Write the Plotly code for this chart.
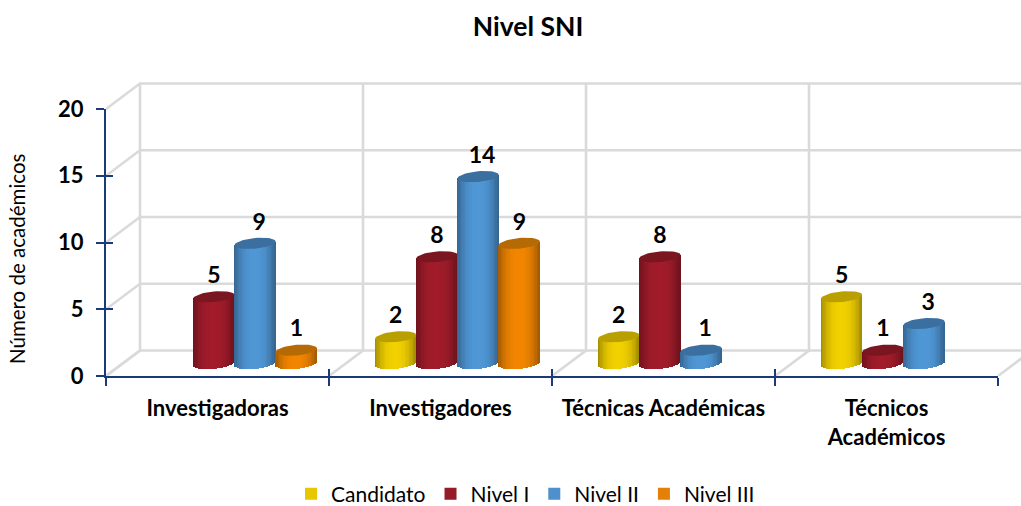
import math
import plotly.graph_objects as go

categories = ["Investigadoras", "Investigadores", "Técnicas Académicas", "Técnicos<br>Académicos"]
series_names = ["Candidato", "Nivel I", "Nivel II", "Nivel III"]
candidato = [None, 2, 2, 5]
nivel_1 = [5, 8, 8, 1]
nivel_2 = [9, 14, 1, 3]
nivel_3 = [1, 9, None, None]
y_ticks = [0, 5, 10, 15, 20]

all_series = [candidato, nivel_1, nivel_2, nivel_3]
body_colors = ["#F2D100", "#A21C2B", "#5097D6", "#F28600"]
top_colors = ["#B9A000", "#7A1620", "#3A6F9F", "#B56A05"]
legend_colors = ["#E6C700", "#951B26", "#4E8FCC", "#E47F08"]
label_shift_px = [0, 0, 4, 0]

FONT = "Lato"
NAVY = "#1B3A7A"
GRID = "#DADADA"

# pixel scale of the axes
W, H = 1021, 506
LEFT, BOTTOM_Y, TOP_Y = 106, 376, 80
PX_X = 223.0      # px per category
PX_Y = 13.35      # px per value unit
FRONT_W = 892.0
FRONT_H = 267.0
FULL_W = W - LEFT
FULL_H = BOTTOM_Y - TOP_Y
WALL_DX = 34 / PX_X
WALL_DY = 25.5 / PX_Y
CYL_W = 41.2 / PX_X
GROUP_SHIFT = 17 / PX_X
BASE = 12.5 / PX_Y
ELL_B = 5.3 / PX_Y
ELL_C = 1.8 / PX_Y
N_STRIPS = 31


def shade(hex_color, factor):
    r, g, b = [int(hex_color[i:i + 2], 16) for i in (1, 3, 5)]
    return "rgb(%d,%d,%d)" % (r * factor, g * factor, b * factor)


fig = go.Figure()

# wall and floor grid, on a full-size backdrop subplot
gx, gy = [], []
for v in y_ticks:
    gx += [0, WALL_DX, 4 + WALL_DX, None]
    gy += [v, v + WALL_DY, v + WALL_DY, None]
for i in range(len(categories) + 1):
    gx += [i, i + WALL_DX, i + WALL_DX, None]
    gy += [0, WALL_DY, y_ticks[-1] + WALL_DY, None]
fig.add_trace(go.Scatter(x=gx, y=gy, mode="lines", line=dict(color=GRID, width=2.6),
                         showlegend=False, hoverinfo="skip", xaxis="x", yaxis="y"))

# legend swatches
for name, col in zip(series_names, legend_colors):
    fig.add_trace(go.Bar(x=[None], y=[None], name=name, marker=dict(color=col, line_width=0),
                         xaxis="x2", yaxis="y2"))

# cylinders
for s, (name, vals) in enumerate(zip(series_names, all_series)):
    xs, hs, bs, cs = [], [], [], []
    ex, ey, lx, ly, lt = [], [], [], [], []
    for c, v in enumerate(vals):
        if v is None:
            continue
        cx = c + 0.5 + GROUP_SHIFT + (s - 1.5) * CYL_W
        for k in range(N_STRIPS):
            u = -1 + 2 * (k + 0.5) / N_STRIPS
            low = BASE - ELL_B * math.sqrt(max(0, 1 - u * u)) + ELL_C * u
            top = BASE + v + ELL_C * u
            xs.append(cx + u * CYL_W / 2)
            bs.append(low)
            hs.append(top - low)
            cs.append(shade(body_colors[s], 0.66 + 0.34 * (1 - abs(u) ** 2.4)))
        for k in range(49):
            t = 2 * math.pi * k / 48
            ex.append(cx + CYL_W / 2 * math.cos(t))
            ey.append(BASE + v + ELL_B * math.sin(t) + ELL_C * math.cos(t))
        ex.append(None)
        ey.append(None)
        lx.append(cx + label_shift_px[s] / PX_X)
        ly.append(BASE + v + 19.5 / PX_Y)
        lt.append(str(v))
    fig.add_trace(go.Bar(x=xs, y=hs, base=bs, width=CYL_W / N_STRIPS * 1.1,
                         marker=dict(color=cs, line_width=0), showlegend=False,
                         name=name, hoverinfo="skip", xaxis="x3", yaxis="y3"))
    fig.add_trace(go.Scatter(x=ex, y=ey, mode="lines", fill="toself", fillcolor=top_colors[s],
                             line=dict(width=0, color=top_colors[s]), showlegend=False,
                             hoverinfo="skip", xaxis="x3", yaxis="y3"))
    fig.add_trace(go.Scatter(x=lx, y=ly, mode="text", text=lt, textposition="middle center",
                             textfont=dict(family=FONT, size=23, color="black", weight="bold"),
                             cliponaxis=False, showlegend=False, hoverinfo="skip",
                             xaxis="x3", yaxis="y3"))

edges = list(range(len(categories) + 1))
centers = [i + 0.5 for i in range(len(categories))]
x_dom = [0, FRONT_W / FULL_W]
y_dom = [0, FRONT_H / FULL_H]
fig.update_layout(
    width=W, height=H,
    margin=dict(l=LEFT, r=0, t=TOP_Y, b=H - BOTTOM_Y, autoexpand=False),
    paper_bgcolor="white", plot_bgcolor="rgba(0,0,0,0)",
    barmode="overlay", bargap=0,
    font=dict(family=FONT, color="black"),
    title=dict(text="<b>Nivel SNI</b>", font=dict(family=FONT, size=26.5, color="black"),
               x=528 / W, xanchor="center", y=1 - 27 / H, yanchor="middle",
               xref="container", yref="container"),
    xaxis=dict(range=[0, FULL_W / PX_X], domain=[0, 1], visible=False),
    yaxis=dict(range=[0, FULL_H / PX_Y], domain=[0, 1], visible=False),
    xaxis2=dict(range=[0, 4], domain=x_dom, anchor="y2", showgrid=False, zeroline=False,
                showline=True, linecolor=NAVY, linewidth=2, tickmode="array", tickvals=centers,
                ticktext=categories, ticks="", ticklen=0, ticklabelstandoff=12,
                tickfont=dict(family=FONT, size=22, color="black", weight="bold"),
                minor=dict(tickmode="array", tickvals=edges, ticks="outside", ticklen=8,
                           tickwidth=1.5, tickcolor=NAVY, showgrid=False)),
    yaxis2=dict(range=[0, 20], domain=y_dom, anchor="x2", showgrid=False, zeroline=False,
                showline=True, linecolor=NAVY, linewidth=2, tickmode="array", tickvals=y_ticks,
                ticks="outside", ticklen=8, tickwidth=1.5, tickcolor=NAVY, ticklabelstandoff=8,
                tickfont=dict(family=FONT, size=22, color="black", weight="bold")),
    xaxis3=dict(range=[0, 4], overlaying="x2", anchor="y3", showgrid=False, zeroline=False,
                showticklabels=False, tickmode="array", tickvals=edges, ticks="inside",
                ticklen=7, tickwidth=1.5, tickcolor=NAVY),
    yaxis3=dict(range=[0, 20], overlaying="y2", anchor="x3", showgrid=False, zeroline=False,
                showticklabels=False, tickmode="array", tickvals=y_ticks, ticks="inside",
                ticklen=7, tickwidth=1.5, tickcolor=NAVY),
    legend=dict(orientation="h", xref="container", yref="container", x=291 / W, xanchor="left",
                y=1 - 494 / H, yanchor="middle", font=dict(family=FONT, size=21, color="black"),
                bgcolor="rgba(0,0,0,0)"),
    annotations=[dict(text="Número de académicos", textangle=-90, xref="paper", yref="paper",
                      x=(17 - LEFT) / FULL_W, y=(BOTTOM_Y - 259) / FULL_H, xanchor="center",
                      yanchor="middle", showarrow=False,
                      font=dict(family=FONT, size=20.5, color="black"))],
)

fig.write_html("out.html", config=dict(displayModeBar=False),
               post_script="document.body.style.margin='0';")
